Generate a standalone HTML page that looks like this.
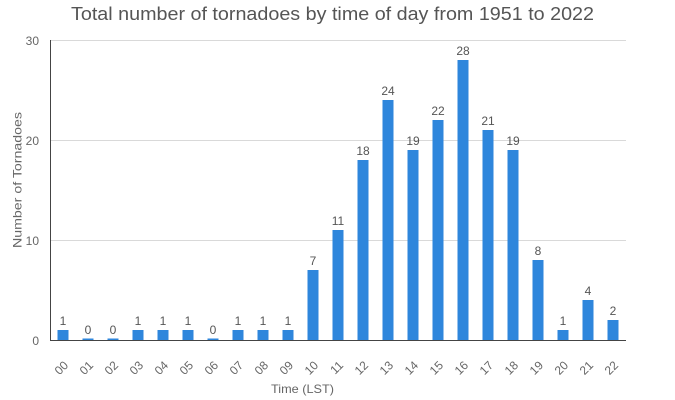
<!DOCTYPE html>
<html><head><meta charset="utf-8"><style>
html,body{margin:0;padding:0;background:#fff;}
svg{display:block;font-family:"Liberation Sans",sans-serif;}
</style></head><body>
<svg width="675" height="400" viewBox="0 0 675 400" xmlns="http://www.w3.org/2000/svg">
<rect width="675" height="400" fill="#fff"/>
<text x="332.5" y="20" font-size="18" fill="#555" text-anchor="middle" textLength="523" lengthAdjust="spacingAndGlyphs">Total number of tornadoes by time of day from 1951 to 2022</text>
<g stroke="#d9d9d9" stroke-width="1">
<line x1="50" y1="40.5" x2="626" y2="40.5"/>
<line x1="50" y1="140.5" x2="626" y2="140.5"/>
<line x1="50" y1="240.5" x2="626" y2="240.5"/>
</g>
<g font-size="12" fill="#666" text-anchor="end">
<text x="39" y="45">30</text>
<text x="39" y="145">20</text>
<text x="39" y="245">10</text>
<text x="39" y="345">0</text>
</g>
<text transform="translate(21.5,180) rotate(-90)" font-size="12" fill="#666" text-anchor="middle" textLength="136" lengthAdjust="spacingAndGlyphs">Number of Tornadoes</text>
<g fill="#2e86dc">
<rect x="57.5" y="330" width="11" height="10"/>
<rect x="82.5" y="338.5" width="11" height="1.5"/>
<rect x="107.5" y="338.5" width="11" height="1.5"/>
<rect x="132.5" y="330" width="11" height="10"/>
<rect x="157.5" y="330" width="11" height="10"/>
<rect x="182.5" y="330" width="11" height="10"/>
<rect x="207.5" y="338.5" width="11" height="1.5"/>
<rect x="232.5" y="330" width="11" height="10"/>
<rect x="257.5" y="330" width="11" height="10"/>
<rect x="282.5" y="330" width="11" height="10"/>
<rect x="307.5" y="270" width="11" height="70"/>
<rect x="332.5" y="230" width="11" height="110"/>
<rect x="357.5" y="160" width="11" height="180"/>
<rect x="382.5" y="100" width="11" height="240"/>
<rect x="407.5" y="150" width="11" height="190"/>
<rect x="432.5" y="120" width="11" height="220"/>
<rect x="457.5" y="60" width="11" height="280"/>
<rect x="482.5" y="130" width="11" height="210"/>
<rect x="507.5" y="150" width="11" height="190"/>
<rect x="532.5" y="260" width="11" height="80"/>
<rect x="557.5" y="330" width="11" height="10"/>
<rect x="582.5" y="300" width="11" height="40"/>
<rect x="607.5" y="320" width="11" height="20"/>
</g>
<line x1="50.5" y1="40" x2="50.5" y2="340.5" stroke="#444" stroke-width="1"/>
<line x1="50" y1="340.5" x2="626" y2="340.5" stroke="#444" stroke-width="1"/>
<g font-size="12" fill="#555" text-anchor="middle">
<text x="63" y="325">1</text>
<text x="88" y="334">0</text>
<text x="113" y="334">0</text>
<text x="138" y="325">1</text>
<text x="163" y="325">1</text>
<text x="188" y="325">1</text>
<text x="213" y="334">0</text>
<text x="238" y="325">1</text>
<text x="263" y="325">1</text>
<text x="288" y="325">1</text>
<text x="313" y="265">7</text>
<text x="338" y="225">11</text>
<text x="363" y="155">18</text>
<text x="388" y="95">24</text>
<text x="413" y="145">19</text>
<text x="438" y="115">22</text>
<text x="463" y="55">28</text>
<text x="488" y="125">21</text>
<text x="513" y="145">19</text>
<text x="538" y="255">8</text>
<text x="563" y="325">1</text>
<text x="588" y="295">4</text>
<text x="613" y="315">2</text>
</g>
<g font-size="12" fill="#666" text-anchor="end">
<text transform="translate(69,366) rotate(-45)">00</text>
<text transform="translate(94,366) rotate(-45)">01</text>
<text transform="translate(119,366) rotate(-45)">02</text>
<text transform="translate(144,366) rotate(-45)">03</text>
<text transform="translate(169,366) rotate(-45)">04</text>
<text transform="translate(194,366) rotate(-45)">05</text>
<text transform="translate(219,366) rotate(-45)">06</text>
<text transform="translate(244,366) rotate(-45)">07</text>
<text transform="translate(269,366) rotate(-45)">08</text>
<text transform="translate(294,366) rotate(-45)">09</text>
<text transform="translate(319,366) rotate(-45)">10</text>
<text transform="translate(344,366) rotate(-45)">11</text>
<text transform="translate(369,366) rotate(-45)">12</text>
<text transform="translate(394,366) rotate(-45)">13</text>
<text transform="translate(419,366) rotate(-45)">14</text>
<text transform="translate(444,366) rotate(-45)">15</text>
<text transform="translate(469,366) rotate(-45)">16</text>
<text transform="translate(494,366) rotate(-45)">17</text>
<text transform="translate(519,366) rotate(-45)">18</text>
<text transform="translate(544,366) rotate(-45)">19</text>
<text transform="translate(569,366) rotate(-45)">20</text>
<text transform="translate(594,366) rotate(-45)">21</text>
<text transform="translate(619,366) rotate(-45)">22</text>
</g>
<text x="302.5" y="393" font-size="12" fill="#666" text-anchor="middle" textLength="63" lengthAdjust="spacingAndGlyphs">Time (LST)</text>
</svg>
</body></html>
